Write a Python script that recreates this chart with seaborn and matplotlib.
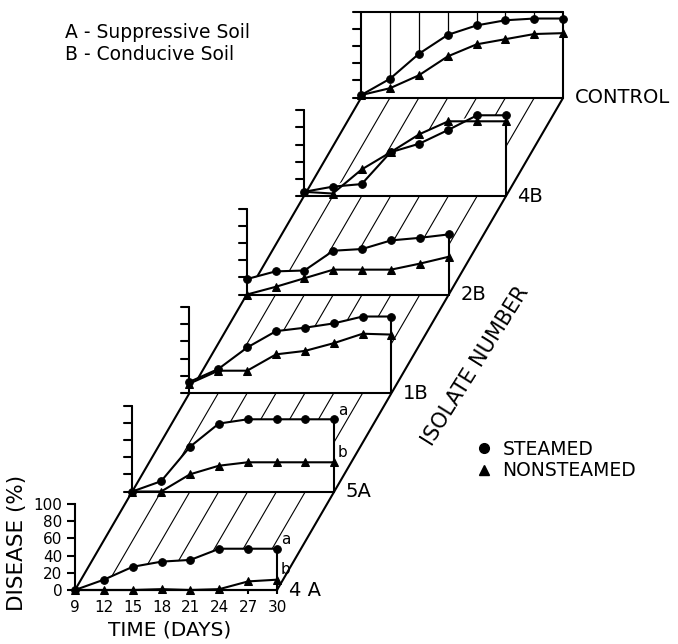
import numpy as np
import matplotlib
matplotlib.use("Agg")
import matplotlib.pyplot as plt
import seaborn as sns
from matplotlib.lines import Line2D

# valores (dias x % de doença)
dias = [9, 12, 15, 18, 21, 24, 27, 30]
isolados = ["4 A", "5A", "1B", "2B", "4B", "CONTROL"]

steamed_4a = [0, 12, 27, 33, 35, 48, 48, 48]
nonsteamed_4a = [0, 0, 0, 1, 0, 1, 10, 12]
steamed_5a = [0, 12, 52, 79, 84, 84, 84, 84]
nonsteamed_5a = [0, 0, 20, 30, 34, 34, 34, 34]
steamed_1b = [13, 28, 53, 72, 76, 81, 89, 89]
nonsteamed_1b = [11, 26, 26, 45, 49, 58, 69, 68]
steamed_2b = [18, 27, 28, 51, 53, 63, 66, 70]
nonsteamed_2b = [0, 9, 19, 29, 29, 29, 36, 44]
steamed_4b = [5, 11, 14, 51, 61, 77, 94, 94]
nonsteamed_4b = [5, 3, 31, 51, 72, 87, 87, 87]
steamed_ctrl = [3, 22, 51, 73, 84, 90, 92, 92]
nonsteamed_ctrl = [3, 11, 26, 48, 62, 68, 74, 75]

letras_4a = ["a", "b"]
letras_5a = ["a", "b"]
yticks = [0, 20, 40, 60, 80, 100]
legenda_solo = ["A - Suppressive Soil", "B - Conducive Soil"]
legenda_series = ["STEAMED", "NONSTEAMED"]

steamed = [steamed_4a, steamed_5a, steamed_1b, steamed_2b, steamed_4b, steamed_ctrl]
nonsteamed = [nonsteamed_4a, nonsteamed_5a, nonsteamed_1b, nonsteamed_2b, nonsteamed_4b, nonsteamed_ctrl]
letras = {0: letras_4a, 1: letras_5a}

# escala / perspectiva oblíqua
PX_DIA = 9.62
PX_PCT = 0.86
DX = 5.95     # deslocamento de cada painel (dias)
DY = 114.5    # deslocamento de cada painel (%)
LW = 1.5

sns.set_style("white")
plt.rcParams["font.family"] = ["DejaVu Sans"]
plt.rcParams["text.color"] = "black"
plt.rcParams["axes.labelcolor"] = "black"
plt.rcParams["xtick.color"] = "black"
plt.rcParams["ytick.color"] = "black"

fig = plt.figure(figsize=(6.78, 6.44), dpi=100)
ax = fig.add_axes([0, 0, 1, 1])

d = np.array(dias, dtype=float)
n_pain = len(isolados)

for i in range(n_pain):
    ox, oy = i * DX, i * DY
    z = 100 - 10 * i
    s = np.array(steamed[i], dtype=float)
    ns = np.array(nonsteamed[i], dtype=float)
    topo = np.maximum(s, ns)
    controle = i == n_pain - 1

    # parede branca (esconde o piso atras)
    ax.fill_between(d + ox, oy, topo + oy, color="white", zorder=z, lw=0)

    # piso hachurado ate o proximo painel
    if not controle:
        for k, dia in enumerate(dias):
            borda = k == 0 or k == len(dias) - 1
            ax.plot([dia + ox, dia + ox + DX], [oy, oy + DY], color="k",
                    lw=LW if borda else 0.8, zorder=z - 5, solid_capstyle="butt")

    if controle:
        for dia in dias[1:-1]:
            ax.plot([dia + ox, dia + ox], [oy, oy + 100], color="k", lw=0.9, zorder=z - 1)
        ax.plot([9 + ox, 30 + ox], [oy + 100, oy + 100], color="k", lw=LW, zorder=z + 1)
        alto = 100
    else:
        alto = topo[-1]

    # base, borda direita, eixo y
    ax.plot([9 + ox, 30 + ox], [oy, oy], color="k", lw=LW, zorder=z + 1)
    ax.plot([30 + ox, 30 + ox], [oy, oy + alto], color="k", lw=LW, zorder=z + 1)
    if i > 0:
        ax.plot([9 + ox, 9 + ox], [oy, oy + 100], color="k", lw=LW, zorder=z + 1)
        for t in yticks:
            ax.plot([9 + ox - 0.85, 9 + ox], [oy + t, oy + t], color="k", lw=LW, zorder=z + 1)

    sns.lineplot(x=d + ox, y=s + oy, color="k", marker="o", markersize=5.5,
                 linewidth=LW, markeredgecolor="k", ax=ax, zorder=z + 2)
    sns.lineplot(x=d + ox, y=ns + oy, color="k", marker="^", markersize=6,
                 linewidth=LW, markeredgecolor="k", ax=ax, zorder=z + 2)

    ax.text(30 + ox + 1.2, oy, isolados[i], fontsize=14, ha="left", va="center")

    if i in letras:
        ax.annotate(letras[i][0], xy=(30 + ox, s[-1] + oy), xytext=(9, 9),
                    textcoords="offset pixels", fontsize=11, ha="center", va="center")
        ax.annotate(letras[i][1], xy=(30 + ox, ns[-1] + oy), xytext=(8, 10),
                    textcoords="offset pixels", fontsize=11, ha="center", va="center")

# eixos reais so para o painel da frente (4 A)
x0 = 9 - 75 / PX_DIA
ax.set_xlim(x0, x0 + 678 / PX_DIA)
ax.set_ylim(-(644 - 590) / PX_PCT, 590 / PX_PCT)

for lado in ["top", "right"]:
    ax.spines[lado].set_visible(False)
ax.spines["left"].set_position(("data", 9))
ax.spines["left"].set_bounds(0, 100)
ax.spines["bottom"].set_position(("data", 0))
ax.spines["bottom"].set_bounds(9, 30)
for lado in ["left", "bottom"]:
    ax.spines[lado].set_linewidth(LW)
    ax.spines[lado].set_color("k")
    ax.spines[lado].set_zorder(150)

ax.set_xticks(dias)
ax.set_yticks(yticks)
ax.tick_params(axis="y", left=True, direction="out", length=6, width=LW, labelsize=11, pad=3)
ax.tick_params(axis="x", bottom=True, direction="out", length=3, width=LW, labelsize=11, pad=4)

ax.set_xlabel("TIME (DAYS)", fontsize=14.5)
ax.xaxis.set_label_coords(170 / 678, 1 - 621 / 644)
ax.set_ylabel("DISEASE (%)", fontsize=15.5)
ax.yaxis.set_label_coords(27 / 678, 1 - 543 / 644)

# textos soltos
fig.text(65 / 678, 1 - 32 / 644, legenda_solo[0], fontsize=13.5, ha="left", va="center")
fig.text(65 / 678, 1 - 55 / 644, legenda_solo[1], fontsize=13.5, ha="left", va="center")
fig.text(476 / 678, 1 - 366 / 644, "ISOLATE NUMBER", fontsize=15, rotation=58,
         rotation_mode="anchor", ha="center", va="center")

alcas = [Line2D([], [], marker="o", ls="none", color="k", markersize=7, label=legenda_series[0]),
         Line2D([], [], marker="^", ls="none", color="k", markersize=7, label=legenda_series[1])]
ax.legend(handles=alcas, loc="center left", bbox_to_anchor=(467 / 678, 1 - 460 / 644),
          frameon=False, fontsize=13.5, handlelength=0.8, handletextpad=0.6,
          labelspacing=0.15, borderpad=0)

fig.savefig("out.png", dpi=100, facecolor="white")
